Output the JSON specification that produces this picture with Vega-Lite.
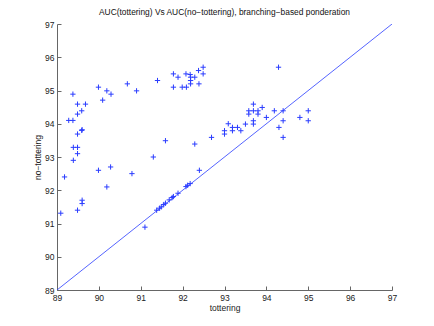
{
  "$schema": "https://vega.github.io/schema/vega-lite/v6.json",
  "autosize": "none",
  "width": 335,
  "height": 266,
  "padding": {"left": 57, "top": 24, "right": 42, "bottom": 36},
  "background": "white",
  "config": {
    "view": {"stroke": null},
    "font": "Liberation Sans",
    "axis": {"grid": false, "domainColor": "#666", "tickColor": "#666", "labelColor": "#222", "titleColor": "#222", "labelFontSize": 8.5, "titleFontSize": 8.5, "titleFontWeight": "normal", "labelFont": "Liberation Sans", "titleFont": "Liberation Sans", "domainWidth": 1, "tickWidth": 1}
  },
  "title": {"text": "AUC(tottering) Vs AUC(no−tottering), branching−based ponderation", "fontSize": 8.4, "fontWeight": "normal", "color": "#111", "font": "Liberation Sans", "anchor": "middle", "offset": 4},
  "datasets": {
    "pts": [
      {"t": 89.09, "n": 91.31}, {"t": 89.18, "n": 92.4}, {"t": 89.28, "n": 94.1},
      {"t": 89.38, "n": 94.1}, {"t": 89.38, "n": 94.89}, {"t": 89.99, "n": 95.1},
      {"t": 90.19, "n": 94.99}, {"t": 90.29, "n": 94.89}, {"t": 90.09, "n": 94.71},
      {"t": 90.68, "n": 95.2}, {"t": 90.9, "n": 94.99}, {"t": 91.4, "n": 95.3},
      {"t": 89.49, "n": 94.59}, {"t": 89.68, "n": 94.59}, {"t": 89.59, "n": 94.39},
      {"t": 89.49, "n": 94.29}, {"t": 89.49, "n": 93.69}, {"t": 89.59, "n": 93.8},
      {"t": 89.6, "n": 93.82}, {"t": 89.39, "n": 93.29}, {"t": 89.49, "n": 93.29},
      {"t": 89.49, "n": 93.1}, {"t": 89.39, "n": 92.9}, {"t": 91.59, "n": 93.49},
      {"t": 91.3, "n": 93.0}, {"t": 89.99, "n": 92.6}, {"t": 90.28, "n": 92.7},
      {"t": 90.19, "n": 92.1}, {"t": 90.79, "n": 92.5}, {"t": 89.49, "n": 91.4},
      {"t": 89.6, "n": 91.7}, {"t": 89.6, "n": 91.6}, {"t": 91.1, "n": 90.89},
      {"t": 92.4, "n": 92.6}, {"t": 91.38, "n": 91.4}, {"t": 91.45, "n": 91.46},
      {"t": 91.49, "n": 91.5}, {"t": 91.55, "n": 91.57}, {"t": 91.59, "n": 91.61},
      {"t": 91.68, "n": 91.71}, {"t": 91.75, "n": 91.78}, {"t": 91.78, "n": 91.81},
      {"t": 91.89, "n": 91.91}, {"t": 92.08, "n": 92.11}, {"t": 92.12, "n": 92.15},
      {"t": 92.18, "n": 92.2},
      {"t": 91.78, "n": 95.5}, {"t": 91.89, "n": 95.4}, {"t": 92.08, "n": 95.5},
      {"t": 92.18, "n": 95.48}, {"t": 92.19, "n": 95.4}, {"t": 92.29, "n": 95.4},
      {"t": 92.19, "n": 95.3}, {"t": 92.19, "n": 95.2}, {"t": 92.38, "n": 95.6},
      {"t": 92.49, "n": 95.7}, {"t": 92.49, "n": 95.5}, {"t": 92.39, "n": 95.2},
      {"t": 91.78, "n": 95.1}, {"t": 91.99, "n": 95.1}, {"t": 92.09, "n": 95.1},
      {"t": 94.29, "n": 95.7},
      {"t": 92.29, "n": 93.39}, {"t": 92.69, "n": 93.59}, {"t": 93.09, "n": 94.0},
      {"t": 93.0, "n": 93.79}, {"t": 93.0, "n": 93.69}, {"t": 93.19, "n": 93.89},
      {"t": 93.19, "n": 93.79}, {"t": 93.31, "n": 93.89}, {"t": 93.39, "n": 93.79},
      {"t": 93.5, "n": 93.99}, {"t": 93.69, "n": 94.59}, {"t": 93.58, "n": 94.39},
      {"t": 93.58, "n": 94.29}, {"t": 93.69, "n": 94.39}, {"t": 93.8, "n": 94.39},
      {"t": 93.8, "n": 94.29}, {"t": 93.9, "n": 94.49}, {"t": 93.69, "n": 94.09},
      {"t": 93.69, "n": 93.99}, {"t": 94.0, "n": 94.19}, {"t": 94.19, "n": 94.39},
      {"t": 94.4, "n": 94.39}, {"t": 94.4, "n": 94.09}, {"t": 94.3, "n": 93.89},
      {"t": 94.4, "n": 93.59}, {"t": 94.8, "n": 94.19}, {"t": 95.0, "n": 94.39},
      {"t": 95.0, "n": 94.09}
    ],
    "diag": [{"t": 89, "n": 89}, {"t": 97, "n": 97}]
  },
  "encoding": {
    "x": {"field": "t", "type": "quantitative", "scale": {"domain": [89, 97], "nice": false, "zero": false},
      "axis": {"title": "tottering", "values": [89, 90, 91, 92, 93, 94, 95, 96, 97], "format": "d", "tickSize": -4, "labelPadding": 7, "titlePadding": 2, "labelFlush": false, "labelOverlap": false}},
    "y": {"field": "n", "type": "quantitative", "scale": {"domain": [89, 97], "nice": false, "zero": false},
      "axis": {"title": "no−tottering", "values": [89, 90, 91, 92, 93, 94, 95, 96, 97], "format": "d", "tickSize": -4, "labelPadding": 7, "titlePadding": 2, "labelFlush": false, "labelOverlap": false, "labelBound": false}}
  },
  "layer": [
    {
      "data": {"name": "diag"},
      "mark": {"type": "line", "color": "#2a3cff", "strokeWidth": 0.8, "clip": true}
    },
    {
      "data": {"name": "pts"},
      "mark": {"type": "point", "shape": "M-1,0L1,0M0,-1L0,1", "filled": false, "size": 28, "stroke": "#2a3cff", "strokeWidth": 1, "opacity": 1}
    }
  ]
}
